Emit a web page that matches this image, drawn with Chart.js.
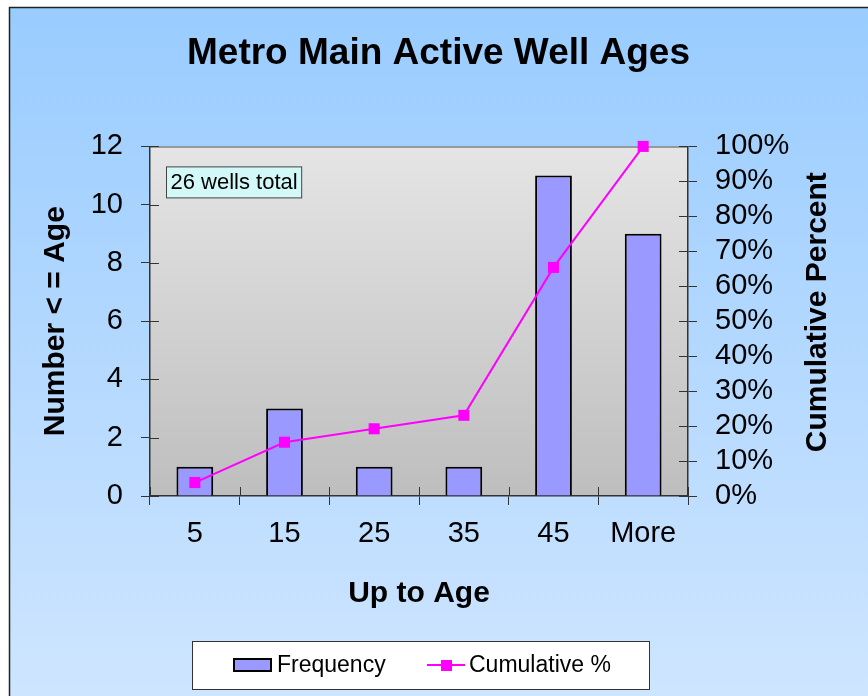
<!DOCTYPE html>
<html>
<head>
<meta charset="utf-8">
<script src="https://cdn.jsdelivr.net/npm/chart.js@4.4.0/dist/chart.umd.min.js"></script>
<style>
  html, body { margin: 0; padding: 0; background: #fff; }
  canvas { display: block; }
</style>
</head>
<body>
<canvas id="chart" width="868" height="696"></canvas>
<script>
// histogram of well ages
var ages = ['5', '15', '25', '35', '45', 'More'];
var frequency = [1, 3, 1, 1, 11, 9];
var cumulativePct = [3.85, 15.38, 19.23, 23.08, 65.38, 100];
var noteText = '26 wells total';

var FONT = '"Liberation Sans", Arial, sans-serif';

var backdrop = {
  id: 'backdrop',
  beforeDraw: function(chart) {
    var ctx = chart.ctx, w = chart.width, h = chart.height, a = chart.chartArea;
    ctx.save();
    ctx.fillStyle = '#fff';
    ctx.fillRect(0, 0, w, h);
    var g = ctx.createLinearGradient(0, 7, 0, h);
    g.addColorStop(0, 'rgb(153,204,255)');
    g.addColorStop(1, 'rgb(206,229,255)');
    ctx.fillStyle = g;
    ctx.fillRect(9, 7, w - 9, h - 7);
    ctx.strokeStyle = '#222';
    ctx.lineWidth = 1.5;
    ctx.beginPath();
    ctx.moveTo(9.5, h);
    ctx.lineTo(9.5, 7.5);
    ctx.lineTo(w, 7.5);
    ctx.stroke();
    // plot area
    var pg = ctx.createLinearGradient(0, a.top, 0, a.bottom);
    pg.addColorStop(0, '#E5E5E5');
    pg.addColorStop(1, '#BEBEBE');
    ctx.fillStyle = pg;
    ctx.fillRect(a.left, a.top, a.right - a.left, a.bottom - a.top);
    ctx.strokeStyle = '#808080';
    ctx.lineWidth = 1.5;
    ctx.beginPath();
    ctx.moveTo(a.left, a.top + 0.5);
    ctx.lineTo(a.right, a.top + 0.5);
    ctx.stroke();
    ctx.restore();
  },
  afterDraw: function(chart) {
    var ctx = chart.ctx, a = chart.chartArea;
    var sx = chart.scales.x, sy = chart.scales.y, sy1 = chart.scales.y1;
    ctx.save();
    // inner halves of the crossing tick marks
    ctx.strokeStyle = '#333';
    ctx.lineWidth = 1;
    ctx.beginPath();
    sy.ticks.forEach(function(t) {
      var p = Math.round(sy.getPixelForValue(t.value)) + 0.5;
      ctx.moveTo(a.left, p); ctx.lineTo(a.left + 9, p);
    });
    sy1.ticks.forEach(function(t) {
      var p = Math.round(sy1.getPixelForValue(t.value)) + 0.5;
      ctx.moveTo(a.right - 9, p); ctx.lineTo(a.right, p);
    });
    for (var i = 0; i <= ages.length; i++) {
      var px = Math.round(sx.getPixelForValue(i - 0.5)) + 0.5;
      ctx.moveTo(px, a.bottom); ctx.lineTo(px, a.bottom - 9);
    }
    ctx.stroke();

    // note box
    ctx.font = '22px ' + FONT;
    var tw = ctx.measureText(noteText).width;
    var bx = a.left + 16.5, by = a.top + 20.5;
    ctx.fillStyle = '#D3F8F8';
    ctx.fillRect(bx, by, tw + 8, 31);
    ctx.strokeStyle = '#444';
    ctx.strokeRect(bx, by, tw + 8, 31);
    ctx.fillStyle = '#000';
    ctx.textBaseline = 'middle';
    ctx.textAlign = 'left';
    ctx.fillText(noteText, bx + 4, by + 16);

    // right axis title, reads bottom to top like the left one
    ctx.save();
    ctx.translate(818, (a.top + a.bottom) / 2 - 9);
    ctx.rotate(-Math.PI / 2);
    ctx.font = 'bold 30px ' + FONT;
    ctx.textAlign = 'center';
    ctx.fillText('Cumulative Percent', 0, 0);
    ctx.restore();

    // legend box
    var ds = chart.data.datasets;
    ctx.fillStyle = '#fff';
    ctx.fillRect(192.5, 641.5, 457, 48);
    ctx.strokeStyle = '#333';
    ctx.lineWidth = 1;
    ctx.strokeRect(192.5, 641.5, 457, 48);
    ctx.fillStyle = ds[1].backgroundColor;
    ctx.fillRect(234, 659, 37, 12);
    ctx.strokeStyle = '#000';
    ctx.lineWidth = 2;
    ctx.strokeRect(234, 659, 37, 12);
    ctx.strokeStyle = ds[0].borderColor;
    ctx.beginPath();
    ctx.moveTo(427, 665); ctx.lineTo(465, 665);
    ctx.stroke();
    ctx.fillStyle = ds[0].pointBackgroundColor;
    ctx.fillRect(441, 660, 11, 11);
    ctx.fillStyle = '#000';
    ctx.font = '23px ' + FONT;
    ctx.fillText(ds[1].label, 277, 666);
    ctx.fillText(ds[0].label, 469, 666);
    ctx.restore();
  }
};

var chart = new Chart(document.getElementById('chart'), {
  data: {
    labels: ages,
    datasets: [
      {
        type: 'line',
        label: 'Cumulative %',
        data: cumulativePct,
        yAxisID: 'y1',
        borderColor: '#FF00FF',
        borderWidth: 2,
        pointStyle: 'rect',
        pointRadius: 7.8,
        pointBackgroundColor: '#FF00FF',
        pointBorderColor: '#FF00FF',
        pointBorderWidth: 0,
        tension: 0,
        clip: false,
        order: 0
      },
      {
        type: 'bar',
        label: 'Frequency',
        data: frequency,
        yAxisID: 'y',
        backgroundColor: '#9999FF',
        borderColor: '#000',
        borderWidth: 2,
        barPercentage: 0.41,
        categoryPercentage: 1,
        order: 1
      }
    ]
  },
  options: {
    responsive: false,
    animation: false,
    layout: { padding: { left: 9, top: 7, right: 0, bottom: 0 } },
    plugins: {
      legend: { display: false },
      tooltip: { enabled: false },
      title: {
        display: true,
        text: 'Metro Main Active Well Ages',
        color: '#000',
        font: { family: FONT, size: 37, weight: 'bold' },
        padding: { top: 25, bottom: 70 }
      }
    },
    scales: {
      x: {
        offset: true,
        grid: { offset: true, drawOnChartArea: false, tickLength: 9, color: '#333' },
        border: { color: '#333', width: 1.5 },
        ticks: { color: '#000', font: { family: FONT, size: 29 }, padding: 12 },
        title: {
          display: true, text: 'Up to Age', color: '#000',
          font: { family: FONT, size: 30, weight: 'bold' },
          padding: { top: 0, bottom: 84 }
        },
        afterFit: function(s) { s.height = 200; }
      },
      y: {
        position: 'left',
        min: 0, max: 12,
        grid: { drawOnChartArea: false, tickLength: 9, color: '#333' },
        border: { color: '#333', width: 1.5 },
        ticks: { stepSize: 2, autoSkip: false, color: '#000', font: { family: FONT, size: 29 }, padding: 18 },
        title: {
          display: true, text: 'Number < = Age', color: '#000',
          font: { family: FONT, size: 30, weight: 'bold' },
          padding: { top: 29, bottom: 0 }
        },
        afterFit: function(s) { s.width = 141; }
      },
      y1: {
        position: 'right',
        min: 0, max: 100,
        grid: { drawOnChartArea: false, tickLength: 9, color: '#333' },
        border: { color: '#333', width: 1.5 },
        ticks: {
          stepSize: 10, autoSkip: false, color: '#000', font: { family: FONT, size: 29 }, padding: 18,
          callback: function(v) { return v + '%'; }
        },
        afterFit: function(s) { s.width = 180; }
      }
    }
  },
  plugins: [backdrop]
});
</script>
</body>
</html>
